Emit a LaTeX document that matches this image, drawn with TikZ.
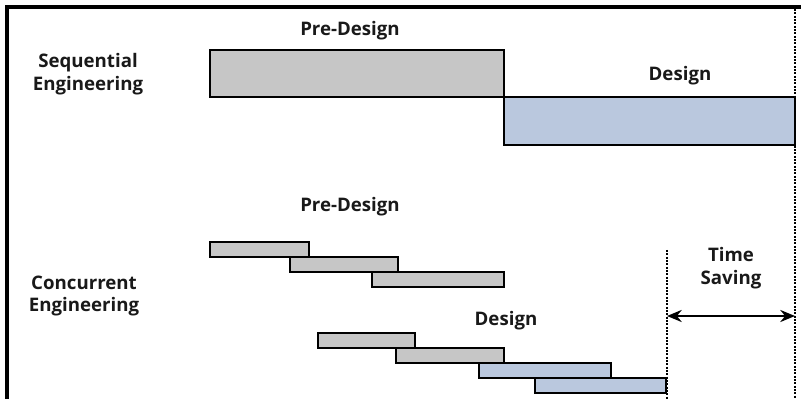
\documentclass[tikz,border=0pt]{standalone}
\usepackage{fontspec}
\setmainfont{Open Sans}
\usetikzlibrary{arrows.meta}
\definecolor{PreGray}{RGB}{198,198,198}
\definecolor{DesBlue}{RGB}{186,200,222}
\tikzset{
  prebar/.style={draw=black,fill=PreGray,line width=2.1pt},
  desbar/.style={draw=black,fill=DesBlue,line width=2.1pt},
  label/.style={font=\fontsize{14}{17}\selectfont\bfseries,text=black!90,align=center},
  marker/.style={draw=black,line width=1.6pt,dash pattern=on 1.6pt off 0.9pt},
  span/.style={{Stealth[length=11pt,width=9pt]}-{Stealth[length=11pt,width=9pt]},line width=1.8pt}
}
\begin{document}
\begin{tikzpicture}[x=0.75pt,y=-0.75pt]
  \useasboundingbox (0,0) rectangle (801,399);
  % frame
  \draw[line width=2.4pt] (7,399) -- (7,7) -- (801,7);

  % sequential engineering
  \node[label] (seq) at (88,74) {Sequential\\Engineering};
  \draw[prebar] (210,50) rectangle (504,97);
  \draw[desbar] (504,97) rectangle (795,145);
  \node[label] (seqpre) at (350,31) {Pre-Design};
  \node[label] (seqdes) at (680,76) {Design};

  % concurrent engineering
  \node[label] (con) at (84,296) {Concurrent\\Engineering};
  \node[label] (conpre) at (350,207) {Pre-Design};
  \node[label] (condes) at (506,321) {Design};
  \foreach \xa/\xb/\ya in {210/309/242, 290/398/257, 372/504/272}
    \draw[prebar] (\xa,\ya) rectangle (\xb,\ya+15);
  \foreach \xa/\xb/\ya in {318/415/333, 396/504/348}
    \draw[prebar] (\xa,\ya) rectangle (\xb,\ya+15);
  \foreach \xa/\xb/\ya in {479/611/363, 535/666/378}
    \draw[desbar] (\xa,\ya) rectangle (\xb,\ya+15);

  % time saving
  \coordinate (endtop) at (795,9);
  \coordinate (endbot) at (795,399);
  \coordinate (contop) at (667,250);
  \coordinate (conbot) at (667,399);
  \draw[marker] (endtop) -- (endbot);
  \draw[marker] (contop) -- (conbot);
  \coordinate (arrl) at (667,316);
  \coordinate (arrr) at (795,316);
  \draw[span] (arrl) -- (arrr);
  \node[label] (saving) at (731,268) {Time\\Saving};
\end{tikzpicture}
\end{document}
